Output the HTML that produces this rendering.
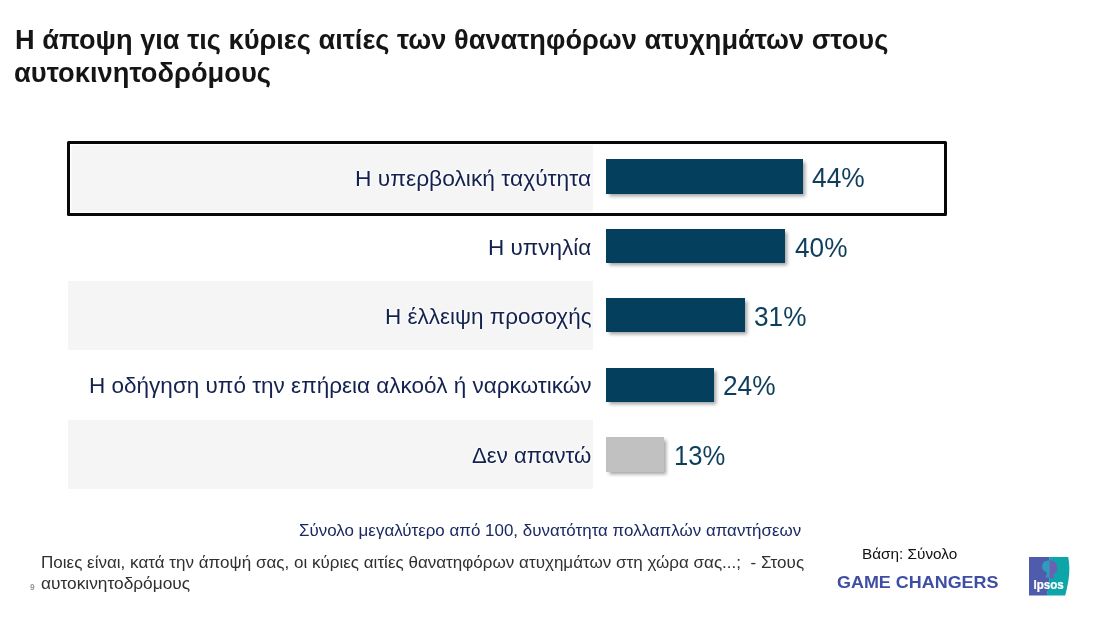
<!DOCTYPE html>
<html lang="el">
<head>
<meta charset="utf-8">
<title>Ipsos</title>
<style>
html,body{margin:0;padding:0;background:#fff;}
body{width:1100px;height:619px;position:relative;overflow:hidden;font-family:"Liberation Sans",sans-serif;}
.t{position:absolute;white-space:nowrap;line-height:1;display:inline-block;transform-origin:0 50%;}
.band{position:absolute;left:68px;width:525.3px;height:69px;background:#f5f5f5;}
.bar{position:absolute;left:606px;height:34.5px;background:#04405d;box-shadow:2.5px 2.5px 3.5px rgba(0,0,0,.36);}
.hl{position:absolute;box-sizing:border-box;left:66.7px;top:140.7px;width:880.6px;height:74.9px;border:3px solid #080808;border-radius:1.5px;box-shadow:inset 0 0 1px 1.6px rgba(255,255,255,.9);}
</style>
</head>
<body>
<div class="band" style="top:143px;"></div>
<div class="band" style="top:281px;"></div>
<div class="band" style="top:419.5px;"></div>
<div class="hl"></div>
<div class="bar" style="top:159px;width:197.3px;"></div>
<div class="bar" style="top:228.7px;width:179.3px;"></div>
<div class="bar" style="top:297.9px;width:139.3px;"></div>
<div class="bar" style="top:367.5px;width:107.6px;"></div>
<div class="bar" style="top:437.3px;width:58.2px;background:#c1c1c1;"></div>
<div class="t" id="t1" style="left:14.71px;top:26.45px;font-size:27.5px;font-weight:bold;color:#151515;transform:scaleX(0.9885);">Η άποψη για τις κύριες αιτίες των θανατηφόρων ατυχημάτων στους</div>
<div class="t" id="t2" style="left:14.24px;top:59.45px;font-size:27.5px;font-weight:bold;color:#151515;transform:scaleX(0.9925);">αυτοκινητοδρόμους</div>
<div class="t" id="l1" style="left:355.41px;top:167.70px;font-size:22px;color:#14224f;text-shadow:0 0 2px #fff,0 0 2px #fff,0 0 3px #fff;transform:scaleX(1.0359);">Η υπερβολική ταχύτητα</div>
<div class="t" id="l2" style="left:487.93px;top:236.70px;font-size:22px;color:#14224f;transform:scaleX(1.0224);">Η υπνηλία</div>
<div class="t" id="l3" style="left:385.05px;top:306.20px;font-size:22px;color:#14224f;text-shadow:0 0 2px #fff,0 0 2px #fff,0 0 3px #fff;transform:scaleX(1.0220);">Η έλλειψη προσοχής</div>
<div class="t" id="l4" style="left:88.74px;top:375.20px;font-size:22px;color:#14224f;transform:scaleX(1.0235);">Η οδήγηση υπό την επήρεια αλκοόλ ή ναρκωτικών</div>
<div class="t" id="l5" style="left:472.03px;top:445.20px;font-size:22px;color:#14224f;text-shadow:0 0 2px #fff,0 0 2px #fff,0 0 3px #fff;transform:scaleX(1.0073);">Δεν απαντώ</div>
<div class="t" id="v1" style="left:812.09px;top:164.25px;font-size:27.5px;color:#0e3e5c;transform:scaleX(0.9577);">44%</div>
<div class="t" id="v2" style="left:795.16px;top:234.25px;font-size:27.5px;color:#0e3e5c;transform:scaleX(0.9533);">40%</div>
<div class="t" id="v3" style="left:753.54px;top:303.25px;font-size:27.5px;color:#0e3e5c;transform:scaleX(0.9525);">31%</div>
<div class="t" id="v4" style="left:723.24px;top:372.25px;font-size:27.5px;color:#0e3e5c;transform:scaleX(0.9557);">24%</div>
<div class="t" id="v5" style="left:674.03px;top:441.75px;font-size:27.5px;color:#0e3e5c;transform:scaleX(0.9316);">13%</div>
<div class="t" id="n1" style="left:298.86px;top:521.65px;font-size:16.5px;color:#1a2962;transform:scaleX(1.0262);">Σύνολο μεγαλύτερο από 100, δυνατότητα πολλαπλών απαντήσεων</div>
<div class="t" id="q1" style="left:41.43px;top:554.15px;font-size:16.5px;color:#303030;transform:scaleX(1.0322);">Ποιες είναι, κατά την άποψή σας, οι κύριες αιτίες θανατηφόρων ατυχημάτων στη χώρα σας...;&nbsp; - Στους</div>
<div class="t" id="q2" style="left:40.51px;top:575.15px;font-size:16.5px;color:#303030;transform:scaleX(1.0484);">αυτοκινητοδρόμους</div>
<div class="t" id="pg" style="left:29.53px;top:582.85px;font-size:8.5px;font-weight:bold;color:#9a9a9a;transform:scaleX(0.9906);">9</div>
<div class="t" id="b1" style="left:861.86px;top:546.00px;font-size:15px;color:#111;transform:scaleX(1.0208);">Βάση: Σύνολο</div>
<div class="t" id="gc" style="left:837.25px;top:573.65px;font-size:16.5px;font-weight:bold;color:#3e4ea3;transform:scaleX(1.0874);">GAME CHANGERS</div>
<svg id="logo" style="position:absolute;left:1029.3px;top:557.4px;" width="42" height="38.4" viewBox="0 0 42 38.4" preserveAspectRatio="none">
  <path d="M0 0 H20.6 V21 Q20.2 30 17.8 38.4 H0 Z" fill="#4f5bab"/>
  <path d="M20.4 0 H39.2 Q41.4 11 39.5 23 Q38.2 31 36.2 38.4 H17.6 Q20 30 20.4 21 Z" fill="#0ea5a8"/>
  <path d="M20.5 3.6 C16 3.1 12.9 6 13.2 10 C13.4 13 15 14.6 17.6 15 L17.6 18 Q17.2 19.6 15.8 20.6 L20.5 20.6 Z" fill="#2e9dbd"/>
  <path d="M20.5 3.6 C24.2 3.1 27.4 5.4 27.8 9 L28.7 12 L27.7 12.6 L27.6 15 Q27 16.6 24.6 16.2 L24.6 19 Q25 20.6 26.2 21.2 L20.5 21.2 Z" fill="#6c5fb4"/>
  <text x="4.6" y="31.9" font-family="Liberation Sans, sans-serif" font-weight="bold" font-size="12" textLength="30.2" lengthAdjust="spacingAndGlyphs" fill="#fff" stroke="#fff" stroke-width="0.25">Ipsos</text>
</svg>
</body>
</html>
